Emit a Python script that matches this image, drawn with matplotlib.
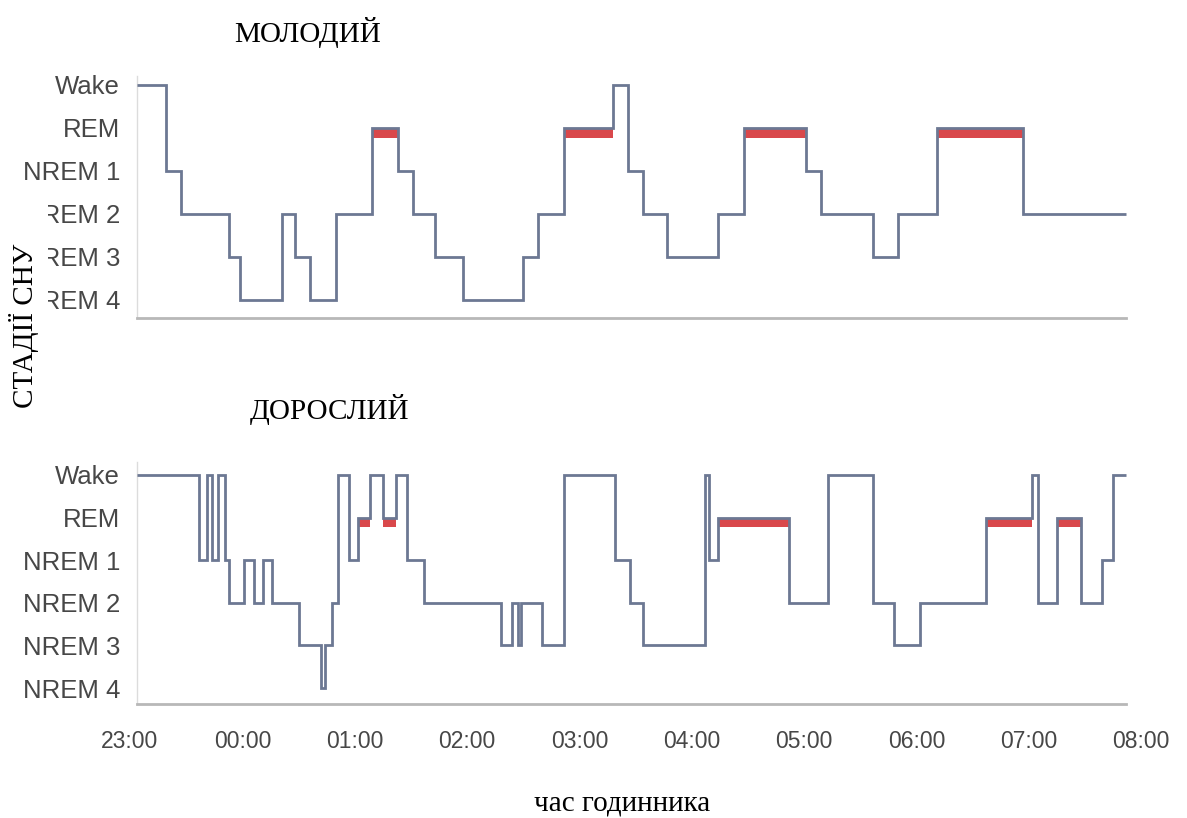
import matplotlib
matplotlib.use("Agg")
import matplotlib.pyplot as plt
from matplotlib.patches import Rectangle

# ---- data (minutes after 23:00, stage index: 0=NREM 4 ... 5=Wake) ----
stage_labels = ["NREM 4", "NREM 3", "NREM 2", "NREM 1", "REM", "Wake"]
tick_minutes = [0, 60, 120, 180, 240, 300, 360, 420, 480, 540]
tick_labels = ["23:00", "00:00", "01:00", "02:00", "03:00", "04:00",
               "05:00", "06:00", "07:00", "08:00"]

young_edges = [4, 19, 27, 53, 59, 81, 88, 96, 110, 129, 143, 151, 163, 178,
               210, 218, 232, 258, 266, 274, 287, 314, 328, 361, 369, 397,
               410, 431, 477, 532]
young_stages = [5, 3, 2, 1, 0, 2, 1, 0, 2, 4, 3, 2, 1, 0,
                1, 2, 4, 5, 3, 2, 1, 2, 4, 3, 2, 1,
                2, 4, 2]

adult_edges = [4, 37, 41, 44, 47, 51, 53, 61, 66, 71, 76, 90, 102, 104, 108,
               111, 117, 122, 128, 135, 142, 148, 157, 198, 204, 207, 209,
               220, 232, 259, 267, 274, 307, 309, 314, 352, 373, 397, 408,
               422, 457, 482, 485, 495, 508, 519, 525, 532]
adult_stages = [5, 3, 5, 3, 5, 3, 2, 3, 2, 3, 2, 1, 0, 1, 2,
                5, 3, 4, 5, 4, 5, 3, 2, 1, 2, 1, 2,
                1, 5, 3, 2, 1, 5, 3, 4, 2, 5, 2, 1,
                2, 4, 5, 2, 4, 2, 3, 5]

LINE = "#6c7893"
RED = "#d9484b"
W, H = 1187, 818

plt.rcParams["font.family"] = ["Liberation Sans", "DejaVu Sans"]
fig = plt.figure(figsize=(W / 100, H / 100), dpi=100)

ax_top = fig.add_axes([130 / W, 1 - 318 / H, 1011 / W, 241.6 / H])
ax_bot = fig.add_axes([130 / W, 1 - 703.8 / H, 1011 / W, 241.6 / H])


def draw(ax, edges, stages, ylim, show_x):
    rem = stage_labels.index("REM")
    for i, s in enumerate(stages):
        if s == rem:
            ax.fill_between([edges[i], edges[i + 1]], rem - 0.23, rem,
                            color=RED, linewidth=0, zorder=2)
    ax.stairs(stages, edges, baseline=None, color=LINE, linewidth=2.0,
              zorder=3)
    ax.set_xlim(0, 540)
    ax.set_ylim(*ylim)
    ax.set_yticks(range(len(stage_labels)))
    ax.set_yticklabels(stage_labels)
    ax.tick_params(axis="y", length=0, pad=12.5, labelsize=18.5,
                   labelcolor="#474747")
    ax.set_xticks(tick_minutes)
    if show_x:
        ax.set_xticklabels(tick_labels)
        ax.tick_params(axis="x", length=0, pad=19, labelsize=16.5,
                       labelcolor="#474747")
    else:
        ax.tick_params(axis="x", length=0, labelbottom=False)
    for side in ("top", "right"):
        ax.spines[side].set_visible(False)
    ax.spines["left"].set_position(("data", edges[0]))
    ax.spines["left"].set_color("#dcdcdc")
    ax.spines["left"].set_linewidth(1.0)
    ax.spines["bottom"].set_bounds(edges[0], edges[-1])
    ax.spines["bottom"].set_color("#b8b8b8")
    ax.spines["bottom"].set_linewidth(2.0)
    ax.patch.set_alpha(0)


draw(ax_top, young_edges, young_stages, (-0.42, 5.2), False)
draw(ax_bot, adult_edges, adult_stages, (-0.37, 5.3), True)

# white block that hides the left part of some tick labels (as in the source)
fig.patches.append(Rectangle((0, 1 - 440 / H), 48 / W, 250 / H,
                             transform=fig.transFigure, facecolor="white",
                             edgecolor="none", zorder=5))

serif = ["Liberation Serif", "DejaVu Serif"]
fig.text(308 / W, 1 - 42 / H, "МОЛОДИЙ", family=serif, fontsize=21,
         ha="center", va="baseline", zorder=6)
fig.text(330 / W, 1 - 419 / H, "ДОРОСЛИЙ", family=serif, fontsize=21,
         ha="center", va="baseline", zorder=6)
fig.text(24 / W, 1 - 326 / H, "СТАДІЇ СНУ", family=serif, fontsize=21,
         rotation=90, ha="center", va="center", zorder=6)
fig.text(622 / W, 1 - 811 / H, "час годинника", family=serif, fontsize=21,
         ha="center", va="baseline", zorder=6)

fig.savefig("out.png", dpi=100, facecolor="white")
